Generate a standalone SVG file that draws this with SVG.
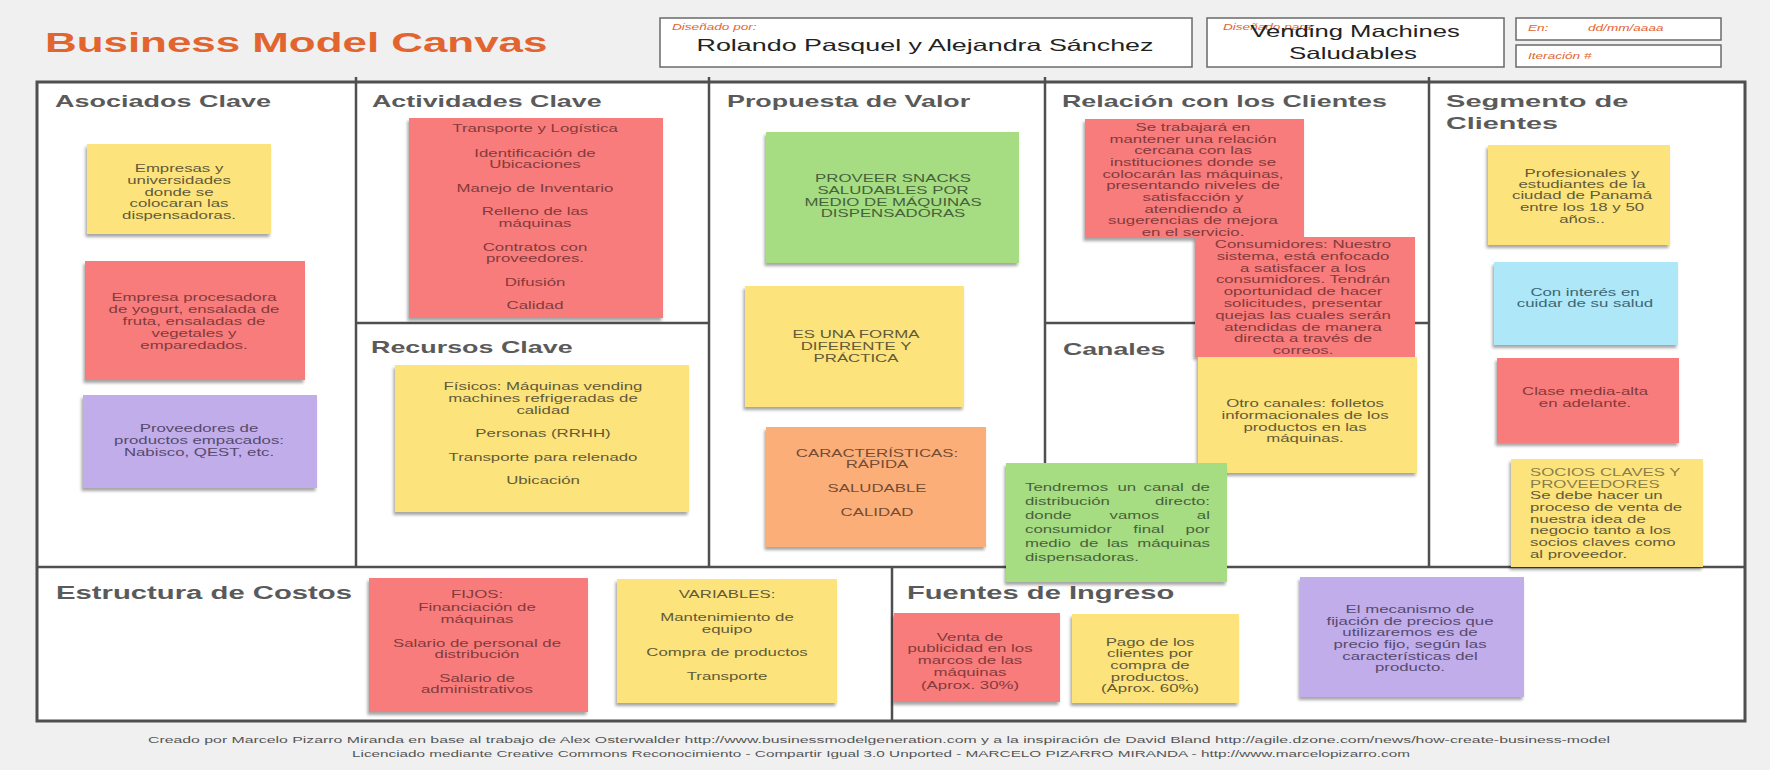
<svg xmlns="http://www.w3.org/2000/svg" width="1770" height="770" viewBox="0 0 1770 770">
<defs>
  <filter id="curl" x="-10%" y="-10%" width="125%" height="130%">
    <feDropShadow dx="-1.5" dy="3" stdDeviation="1.6" flood-color="#000" flood-opacity="0.35"/>
  </filter>
  <style>
    text { font-family: "Liberation Sans", Arial, Helvetica, sans-serif; }
    .title { font-size: 27.4px; font-weight: bold; fill: #e2652f; }
    .hd { font-size: 17px; font-weight: bold; fill: #5a5a5a; }
    .hd2 { font-size: 18px; font-weight: bold; fill: #5a5a5a; }
    .lbl { font-size: 8.5px; font-style: italic; fill: #e2652f; }
    .big { font-size: 16.7px; fill: #222; text-anchor: middle; }
    .foot { font-size: 8.5px; fill: #555; }
    .box { fill: #fff; stroke: #6a6a6a; stroke-width: 1.5; }
    .frame { fill: #fff; stroke: #4f4f4f; stroke-width: 3; }
    .div { stroke: #4f4f4f; stroke-width: 2.5; fill: none; }
    .note rect { filter: url(#curl); }
    .note text { font-size: 10.5px; text-anchor: middle; }
    .note text.left { text-anchor: start; }
    .y rect { fill: #fce37c; } .y text { fill: #625a38; }
    .r rect { fill: #f97b7b; } .r text { fill: #833a3a; }
    .g rect { fill: #a6dc82; } .g text { fill: #46623a; }
    .o rect { fill: #fcae78; } .o text { fill: #744c36; }
    .p rect { fill: #c1ade9; } .p text { fill: #564a6e; }
    .b rect { fill: #ade7f8; } .b text { fill: #3b6674; }
  </style>
</defs>

<!-- page -->
<rect x="0" y="0" width="1770" height="770" fill="#f0f0f0"/>

<!-- header -->
<g id="header">
  <text class="title" transform="matrix(1.6 0 0 1 45 0)" x="0" y="52" textLength="314" lengthAdjust="spacingAndGlyphs">Business Model Canvas</text>
  <g id="designedBy">
    <rect class="box" x="660" y="18" width="532" height="49"/>
    <text class="lbl" transform="matrix(1.6 0 0 1 672 0)" x="0" y="30">Diseñado por:</text>
    <text class="big" transform="matrix(1.6 0 0 1 925 0)" x="0" y="51" textLength="285.6" lengthAdjust="spacingAndGlyphs">Rolando Pasquel y Alejandra Sánchez</text>
  </g>
  <g id="designedFor">
    <rect class="box" x="1207" y="18" width="297" height="49"/>
    <text class="lbl" transform="matrix(1.6 0 0 1 1223 0)" x="0" y="30">Diseñado para:</text>
    <text class="big" transform="matrix(1.6 0 0 1 1355 0)" x="0" y="37" textLength="131" lengthAdjust="spacingAndGlyphs">Vending Machines</text>
    <text class="big" transform="matrix(1.6 0 0 1 1353 0)" x="0" y="59" textLength="80" lengthAdjust="spacingAndGlyphs">Saludables</text>
  </g>
  <g id="date">
    <rect class="box" x="1516" y="18" width="205" height="22"/>
    <text class="lbl" transform="matrix(1.6 0 0 1 1528 0)" x="0" y="31">En:</text>
    <text class="lbl" transform="matrix(1.6 0 0 1 1588 0)" x="0" y="31">dd/mm/aaaa</text>
  </g>
  <g id="iteration">
    <rect class="box" x="1516" y="45" width="205" height="22"/>
    <text class="lbl" transform="matrix(1.6 0 0 1 1528 0)" x="0" y="59">Iteración #</text>
  </g>
</g>

<!-- canvas grid -->
<g id="grid">
  <rect class="frame" x="37" y="82" width="1708" height="639"/>
  <path class="div" d="M356 77V567 M709 77V567 M1045 77V567 M1429 77V567 M37 567H1745 M356 323H709 M1045 323H1429 M892 567V721"/>
</g>

<!-- block titles -->
<g id="headings">
  <text class="hd" transform="matrix(1.6 0 0 1 55 0)" x="0" y="107" textLength="135" lengthAdjust="spacingAndGlyphs">Asociados Clave</text>
  <text class="hd" transform="matrix(1.6 0 0 1 372 0)" x="0" y="107" textLength="143.5" lengthAdjust="spacingAndGlyphs">Actividades Clave</text>
  <text class="hd" transform="matrix(1.6 0 0 1 727 0)" x="0" y="107" textLength="152" lengthAdjust="spacingAndGlyphs">Propuesta de Valor</text>
  <text class="hd" transform="matrix(1.6 0 0 1 1062 0)" x="0" y="107" textLength="203" lengthAdjust="spacingAndGlyphs">Relación con los Clientes</text>
  <text class="hd" transform="matrix(1.6 0 0 1 1446 0)" x="0" y="107" textLength="114" lengthAdjust="spacingAndGlyphs">Segmento de</text>
  <text class="hd" transform="matrix(1.6 0 0 1 1446 0)" x="0" y="129" textLength="70" lengthAdjust="spacingAndGlyphs">Clientes</text>
  <text class="hd" transform="matrix(1.6 0 0 1 371 0)" x="0" y="353" textLength="126" lengthAdjust="spacingAndGlyphs">Recursos Clave</text>
  <text class="hd" transform="matrix(1.6 0 0 1 1063 0)" x="0" y="355" textLength="64" lengthAdjust="spacingAndGlyphs">Canales</text>
  <text class="hd2" transform="matrix(1.6 0 0 1 56 0)" x="0" y="599" textLength="185" lengthAdjust="spacingAndGlyphs">Estructura de Costos</text>
  <text class="hd2" transform="matrix(1.6 0 0 1 907 0)" x="0" y="599" textLength="167" lengthAdjust="spacingAndGlyphs">Fuentes de Ingreso</text>
</g>

<!-- Asociados Clave -->
<g id="ac1" class="note y">
  <rect x="87" y="144" width="184" height="90"/>
  <text transform="matrix(1.6 0 0 1 179 0)"><tspan x="0" y="172">Empresas y</tspan><tspan x="0" y="184">universidades</tspan><tspan x="0" y="196">donde se</tspan><tspan x="0" y="207">colocaran las</tspan><tspan x="0" y="219">dispensadoras.</tspan></text>
</g>
<g id="ac2" class="note r">
  <rect x="85" y="261" width="220" height="119"/>
  <text transform="matrix(1.6 0 0 1 194 0)"><tspan x="0" y="301">Empresa procesadora</tspan><tspan x="0" y="313">de yogurt, ensalada de</tspan><tspan x="0" y="325">fruta, ensaladas de</tspan><tspan x="0" y="337">vegetales y</tspan><tspan x="0" y="349">emparedados.</tspan></text>
</g>
<g id="ac3" class="note p">
  <rect x="83" y="395" width="234" height="93"/>
  <text transform="matrix(1.6 0 0 1 199 0)"><tspan x="0" y="432">Proveedores de</tspan><tspan x="0" y="444">productos empacados:</tspan><tspan x="0" y="456">Nabisco, QEST, etc.</tspan></text>
</g>

<!-- Actividades Clave -->
<g id="ka" class="note r">
  <rect x="409" y="118" width="254" height="200"/>
  <text transform="matrix(1.6 0 0 1 535 0)"><tspan x="0" y="132">Transporte y Logística</tspan><tspan x="0" y="157">Identificación de</tspan><tspan x="0" y="168">Ubicaciones</tspan><tspan x="0" y="192">Manejo de Inventario</tspan><tspan x="0" y="215">Relleno de las</tspan><tspan x="0" y="227">máquinas</tspan><tspan x="0" y="251">Contratos con</tspan><tspan x="0" y="262">proveedores.</tspan><tspan x="0" y="286">Difusión</tspan><tspan x="0" y="309">Calidad</tspan></text>
</g>

<!-- Recursos Clave -->
<g id="kr" class="note y">
  <rect x="395" y="365" width="294" height="147"/>
  <text transform="matrix(1.6 0 0 1 543 0)"><tspan x="0" y="390">Físicos: Máquinas vending</tspan><tspan x="0" y="402">machines refrigeradas de</tspan><tspan x="0" y="414">calidad</tspan><tspan x="0" y="437">Personas (RRHH)</tspan><tspan x="0" y="461">Transporte para relenado</tspan><tspan x="0" y="484">Ubicación</tspan></text>
</g>

<!-- Propuesta de Valor -->
<g id="vp1" class="note g">
  <rect x="766" y="132" width="253" height="131"/>
  <text transform="matrix(1.6 0 0 1 893 0)"><tspan x="0" y="182">PROVEER SNACKS</tspan><tspan x="0" y="194">SALUDABLES POR</tspan><tspan x="0" y="206">MEDIO DE MÁQUINAS</tspan><tspan x="0" y="217">DISPENSADORAS</tspan></text>
</g>
<g id="vp2" class="note y">
  <rect x="745" y="286" width="219" height="121"/>
  <text transform="matrix(1.6 0 0 1 856 0)"><tspan x="0" y="338">ES UNA FORMA</tspan><tspan x="0" y="350">DIFERENTE Y</tspan><tspan x="0" y="362">PRÁCTICA</tspan></text>
</g>
<g id="vp3" class="note o">
  <rect x="766" y="427" width="220" height="120"/>
  <text transform="matrix(1.6 0 0 1 877 0)"><tspan x="0" y="457">CARACTERÍSTICAS:</tspan><tspan x="0" y="468">RÁPIDA</tspan><tspan x="0" y="492">SALUDABLE</tspan><tspan x="0" y="516">CALIDAD</tspan></text>
</g>

<!-- Relación con los Clientes -->
<g id="cr1" class="note r">
  <rect x="1085" y="119" width="219" height="119"/>
  <text transform="matrix(1.6 0 0 1 1193 0)"><tspan x="0" y="131">Se trabajará en</tspan><tspan x="0" y="142.7">mantener una relación</tspan><tspan x="0" y="154.3">cercana con las</tspan><tspan x="0" y="166">instituciones donde se</tspan><tspan x="0" y="177.7">colocarán las máquinas,</tspan><tspan x="0" y="189.3">presentando niveles de</tspan><tspan x="0" y="201">satisfacción y</tspan><tspan x="0" y="212.7">atendiendo a</tspan><tspan x="0" y="224.3">sugerencias de mejora</tspan><tspan x="0" y="236">en el servicio.</tspan></text>
</g>
<g id="cr2" class="note r">
  <rect x="1195" y="237" width="220" height="120"/>
  <text transform="matrix(1.6 0 0 1 1303 0)"><tspan x="0" y="248">Consumidores: Nuestro</tspan><tspan x="0" y="259.8">sistema, está enfocado</tspan><tspan x="0" y="271.6">a satisfacer a los</tspan><tspan x="0" y="283.4">consumidores. Tendrán</tspan><tspan x="0" y="295.2">oportunidad de hacer</tspan><tspan x="0" y="307">solicitudes, presentar</tspan><tspan x="0" y="318.8">quejas las cuales serán</tspan><tspan x="0" y="330.6">atendidas de manera</tspan><tspan x="0" y="342.4">directa a través de</tspan><tspan x="0" y="354.2">correos.</tspan></text>
</g>

<!-- Canales -->
<g id="ch1" class="note y">
  <rect x="1198" y="357" width="219" height="116"/>
  <text transform="matrix(1.6 0 0 1 1305 0)"><tspan x="0" y="407">Otro canales: folletos</tspan><tspan x="0" y="419">informacionales de los</tspan><tspan x="0" y="431">productos en las</tspan><tspan x="0" y="442">máquinas.</tspan></text>
</g>
<g id="ch2" class="note g">
  <rect x="1006" y="463" width="221" height="119"/>
  <!-- justified paragraph: words placed one by one across a 115.6-unit measure -->
  <text class="left" transform="matrix(1.6 0 0 1 1025 0)">
    <tspan x="0" y="491">Tendremos</tspan><tspan x="57.8" y="491">un</tspan><tspan x="74.1" y="491">canal</tspan><tspan x="103.9" y="491">de</tspan>
    <tspan x="0" y="505">distribución</tspan><tspan x="81.2" y="505">directo:</tspan>
    <tspan x="0" y="519">donde</tspan><tspan x="52.9" y="519">vamos</tspan><tspan x="107.4" y="519">al</tspan>
    <tspan x="0" y="533">consumidor</tspan><tspan x="67.7" y="533">final</tspan><tspan x="100.4" y="533">por</tspan>
    <tspan x="0" y="547">medio</tspan><tspan x="34.1" y="547">de</tspan><tspan x="51.2" y="547">las</tspan><tspan x="70.1" y="547">máquinas</tspan>
    <tspan x="0" y="561">dispensadoras.</tspan>
  </text>
</g>

<!-- Segmento de Clientes -->
<g id="cs1" class="note y">
  <rect x="1488" y="145" width="182" height="100"/>
  <text transform="matrix(1.6 0 0 1 1582 0)"><tspan x="0" y="177">Profesionales y</tspan><tspan x="0" y="188">estudiantes de la</tspan><tspan x="0" y="199">ciudad de Panamá</tspan><tspan x="0" y="211">entre los 18 y 50</tspan><tspan x="0" y="223">años..</tspan></text>
</g>
<g id="cs2" class="note b">
  <rect x="1494" y="262" width="184" height="83"/>
  <text transform="matrix(1.6 0 0 1 1585 0)"><tspan x="0" y="296">Con interés en</tspan><tspan x="0" y="307">cuidar de su salud</tspan></text>
</g>
<g id="cs3" class="note r">
  <rect x="1497" y="358" width="182" height="85"/>
  <text transform="matrix(1.6 0 0 1 1585 0)"><tspan x="0" y="395">Clase media-alta</tspan><tspan x="0" y="407">en adelante.</tspan></text>
</g>
<g id="cs4" class="note y">
  <rect x="1511" y="459" width="192" height="108"/>
  <text class="left" transform="matrix(1.6 0 0 1 1530 0)"><tspan x="0" y="476" fill-opacity="0.75">SOCIOS CLAVES Y</tspan><tspan x="0" y="487.7" fill-opacity="0.75">PROVEEDORES</tspan><tspan x="0" y="499.4">Se debe hacer un</tspan><tspan x="0" y="511.1">proceso de venta de</tspan><tspan x="0" y="522.8">nuestra idea de</tspan><tspan x="0" y="534.5">negocio tanto a los</tspan><tspan x="0" y="546.2">socios claves como</tspan><tspan x="0" y="557.9">al proveedor.</tspan></text>
</g>

<!-- Estructura de Costos -->
<g id="ec1" class="note r">
  <rect x="369" y="578" width="219" height="134"/>
  <text transform="matrix(1.6 0 0 1 477 0)"><tspan x="0" y="598">FIJOS:</tspan><tspan x="0" y="611">Financiación de</tspan><tspan x="0" y="623">máquinas</tspan><tspan x="0" y="647">Salario  de personal de</tspan><tspan x="0" y="658">distribución</tspan><tspan x="0" y="682">Salario de</tspan><tspan x="0" y="693">administrativos</tspan></text>
</g>
<g id="ec2" class="note y">
  <rect x="617" y="579" width="220" height="124"/>
  <text transform="matrix(1.6 0 0 1 727 0)"><tspan x="0" y="598">VARIABLES:</tspan><tspan x="0" y="621">Mantenimiento de</tspan><tspan x="0" y="633">equipo</tspan><tspan x="0" y="656">Compra de productos</tspan><tspan x="0" y="680">Transporte</tspan></text>
</g>

<!-- Fuentes de Ingreso -->
<g id="fi1" class="note r">
  <rect x="894" y="613" width="166" height="89"/>
  <text transform="matrix(1.6 0 0 1 970 0)"><tspan x="0" y="641">Venta de</tspan><tspan x="0" y="652">publicidad en los</tspan><tspan x="0" y="664">marcos de las</tspan><tspan x="0" y="676">máquinas</tspan><tspan x="0" y="689">(Aprox. 30%)</tspan></text>
</g>
<g id="fi2" class="note y">
  <rect x="1072" y="614" width="167" height="89"/>
  <text transform="matrix(1.6 0 0 1 1150 0)"><tspan x="0" y="646">Pago de los</tspan><tspan x="0" y="657">clientes por</tspan><tspan x="0" y="669">compra de</tspan><tspan x="0" y="681">productos.</tspan><tspan x="0" y="692">(Aprox. 60%)</tspan></text>
</g>
<g id="fi3" class="note p">
  <rect x="1300" y="577" width="224" height="120"/>
  <text transform="matrix(1.6 0 0 1 1410 0)"><tspan x="0" y="613">El mecanismo de</tspan><tspan x="0" y="625">fijación de precios que</tspan><tspan x="0" y="636">utilizaremos es de</tspan><tspan x="0" y="648">precio fijo, según las</tspan><tspan x="0" y="660">características del</tspan><tspan x="0" y="671">producto.</tspan></text>
</g>

<!-- credits -->
<g id="footer">
  <text class="foot" x="148" y="743" textLength="1462" lengthAdjust="spacingAndGlyphs">Creado por Marcelo Pizarro Miranda en base al trabajo de Alex Osterwalder http://www.businessmodelgeneration.com y a la inspiración de David Bland http://agile.dzone.com/news/how-create-business-model</text>
  <text class="foot" x="352" y="757" textLength="1058" lengthAdjust="spacingAndGlyphs">Licenciado mediante Creative Commons Reconocimiento - Compartir Igual 3.0 Unported - MARCELO PIZARRO MIRANDA - http://www.marcelopizarro.com</text>
</g>
</svg>
